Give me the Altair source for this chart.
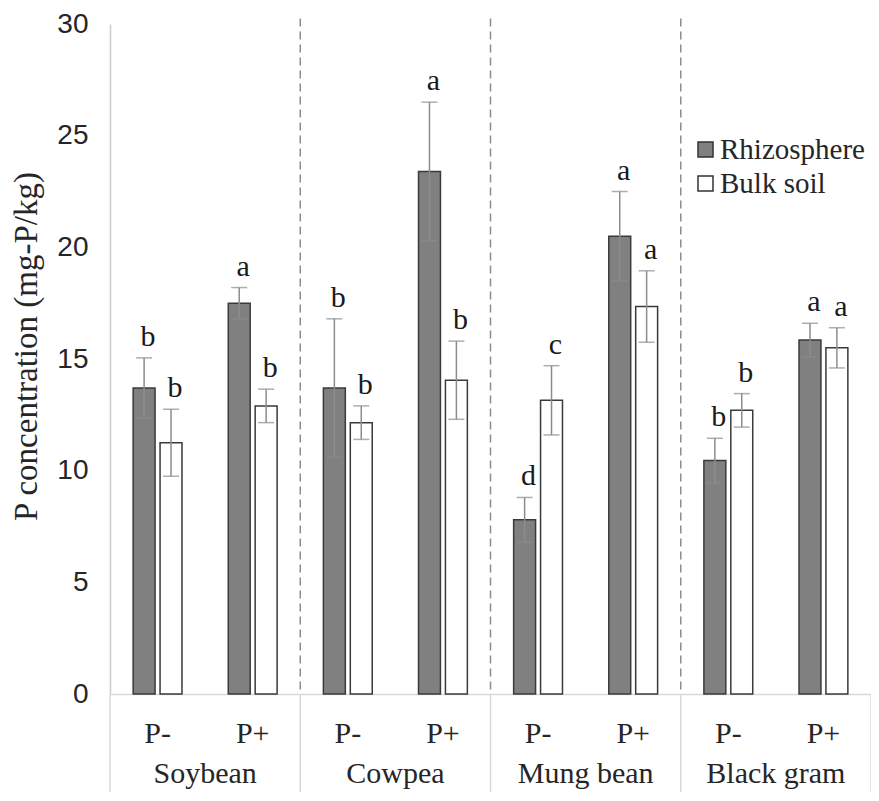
import altair as alt
import pandas as pd

crops = ["Soybean", "Cowpea", "Mung bean", "Black gram"]
levels = ["P-", "P+"]
series = ["Rhizosphere", "Bulk soil"]
# order: Soy P-, Soy P+, Cow P-, Cow P+, Mung P-, Mung P+, BG P-, BG P+
rhizo_mean = [13.7, 17.5, 13.7, 23.4, 7.8, 20.5, 10.45, 15.85]
rhizo_err = [1.35, 0.7, 3.1, 3.1, 1.0, 2.0, 1.0, 0.75]
bulk_mean = [11.25, 12.9, 12.15, 14.05, 13.15, 17.35, 12.7, 15.5]
bulk_err = [1.5, 0.75, 0.75, 1.75, 1.55, 1.6, 0.75, 0.9]
rhizo_letters = ["b", "a", "b", "a", "d", "a", "b", "a"]
bulk_letters = ["b", "b", "b", "b", "c", "a", "b", "a"]
y_ticks = [0, 5, 10, 15, 20, 25, 30]

groups = [f"{c}|{l}" for c in crops for l in levels]
rows = []
for i, g in enumerate(groups):
    crop, lev = g.split("|")
    rows.append(dict(grp=g, crop=crop, series="Rhizosphere", mean=rhizo_mean[i],
                     err=rhizo_err[i], letter=rhizo_letters[i]))
    rows.append(dict(grp=g, crop=crop, series="Bulk soil", mean=bulk_mean[i],
                     err=bulk_err[i], letter=bulk_letters[i]))
df = pd.DataFrame(rows)
df["lo"] = df["mean"] - df["err"]
df["hi"] = df["mean"] + df["err"]
caps = pd.concat([df.assign(cap=df["lo"]), df.assign(cap=df["hi"])])

crop_df = pd.DataFrame({"crop": crops,
                        "first": [f"{c}|P-" for c in crops],
                        "second": [f"{c}|P+" for c in crops]})
dash_df = crop_df.iloc[1:]
edge_df = pd.DataFrame({"grp": [groups[-1]]})

SERIF = "Liberation Serif"
SANS = "Liberation Sans"
TXT = "#262626"

xscale = alt.Scale(domain=groups, paddingInner=0, paddingOuter=0)
xaxis = alt.Axis(title=None, labelExpr="split(datum.label, '|')[1]", labelFont=SERIF,
                 labelFontSize=30, labelColor=TXT, labelAngle=0, ticks=False, tickSize=0,
                 labelPadding=39, labelBaseline="middle", domainColor="#d9d9d9",
                 domainWidth=1.5, grid=False)
yscale = alt.Scale(domain=[0, 30], nice=False, zero=True)
yaxis = alt.Axis(values=y_ticks, title="P concentration (mg-P/kg)", titleFont=SERIF,
                 titleFontSize=33, titleFontWeight="normal", titleColor=TXT, titlePadding=13,
                 titleY=322,
                 labelFont=SANS, labelFontSize=28, labelColor=TXT, ticks=False, tickSize=0,
                 labelPadding=22, domainColor="#cccccc", domainWidth=1.5, grid=False)
off_scale = alt.Scale(domain=series, paddingInner=0.185, paddingOuter=0.86)


def X(field="grp", band=None):
    if band is None:
        return alt.X(f"{field}:N", sort=groups, scale=xscale, axis=xaxis)
    return alt.X(f"{field}:N", sort=groups, scale=xscale, axis=xaxis, bandPosition=band)


base = alt.Chart(df)

bars = base.mark_bar(stroke="#3a3a3a", strokeWidth=1.5).encode(
    x=X(),
    xOffset=alt.XOffset("series:N", sort=series, scale=off_scale),
    y=alt.Y("mean:Q", scale=yscale, axis=yaxis),
    color=alt.Color("series:N", sort=series,
                    scale=alt.Scale(domain=series, range=["#808080", "#ffffff"]),
                    legend=alt.Legend(title=None, orient="none", legendX=581, legendY=111,
                                      symbolType="square", symbolSize=225,
                                      symbolStrokeColor="#333333", symbolStrokeWidth=1.5,
                                      labelFont=SERIF, labelFontSize=29, labelColor=TXT,
                                      labelLimit=400, labelOffset=0, rowPadding=4,
                                      padding=0)),
)

err = base.mark_rule(color="#8c8c8c", strokeWidth=1.5).encode(
    x=X(),
    xOffset=alt.XOffset("series:N", sort=series, scale=off_scale),
    y=alt.Y("lo:Q", scale=yscale, axis=yaxis),
    y2="hi:Q",
)

cap = alt.Chart(caps).mark_tick(color="#8c8c8c", thickness=1.5, size=16).encode(
    x=X(),
    xOffset=alt.XOffset("series:N", sort=series, scale=off_scale),
    y=alt.Y("cap:Q", scale=yscale, axis=yaxis),
)

letters = base.mark_text(font=SERIF, fontSize=30, color="#1a1a1a", baseline="alphabetic",
                         dy=-12, dx=4).encode(
    x=X(),
    xOffset=alt.XOffset("series:N", sort=series, scale=off_scale),
    y=alt.Y("hi:Q", scale=yscale, axis=yaxis),
    text="letter:N",
)

dashes = alt.Chart(dash_df).mark_rule(color="#8c8c8c", strokeWidth=1.5,
                                      strokeDash=[8, 5]).encode(
    x=X("first", 0),
    y=alt.datum(30.25),
    y2=alt.datum(0),
)

table_lines = alt.Chart(crop_df).mark_rule(color="#d9d9d9", strokeWidth=1.5).encode(
    x=X("first", 0),
    y=alt.datum(0),
    y2=alt.datum(-5),
)

edge_line = alt.Chart(edge_df).mark_rule(color="#d9d9d9", strokeWidth=1.5).encode(
    x=X("grp", 1),
    y=alt.datum(0),
    y2=alt.datum(-5),
)

crop_labels = alt.Chart(crop_df).mark_text(font=SERIF, fontSize=30, color=TXT,
                                           baseline="alphabetic").encode(
    x=X("second", 0),
    y=alt.datum(-4.0),
    text="crop:N",
)

chart = alt.layer(
    table_lines, edge_line, dashes, bars, err, cap, letters, crop_labels
).properties(
    width=761, height=670,
    autosize=alt.AutoSizeParams(type="none"),
    padding={"left": 102, "top": 16, "right": 0, "bottom": 98},
).configure_view(stroke=None)

chart.save("out.html", embed_options={"renderer": "svg", "actions": False})
